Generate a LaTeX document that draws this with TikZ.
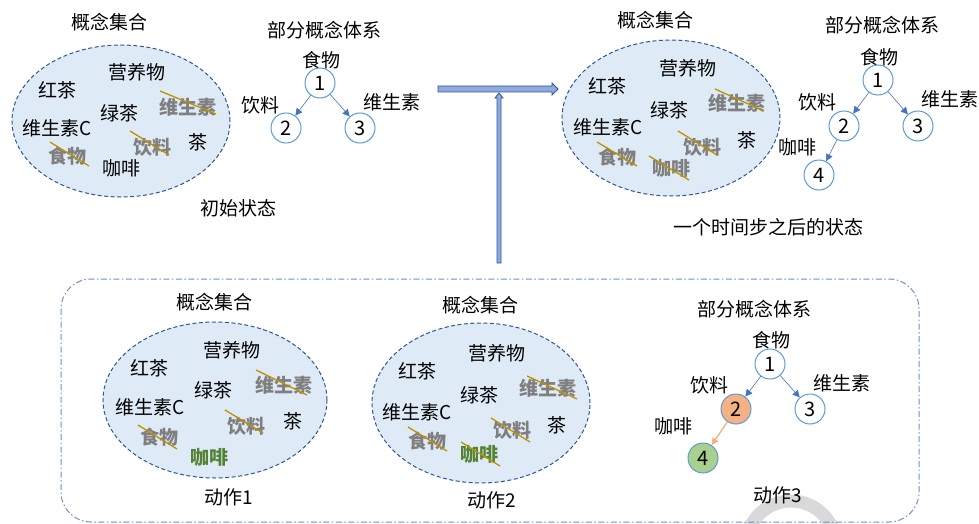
\documentclass[tikz,border=0pt]{standalone}
\usepackage{fontspec}
\setmainfont{Noto Sans CJK SC}
\usetikzlibrary{shapes.geometric,arrows.meta}
\definecolor{setfill}{HTML}{DEEBF7}
\definecolor{setdraw}{HTML}{2F5597}
\definecolor{gonetext}{HTML}{7F7F7F}
\definecolor{strikec}{HTML}{BF9000}
\definecolor{greentext}{HTML}{548235}
\definecolor{nodedraw}{HTML}{5B9BD5}
\definecolor{arrowc}{HTML}{4472C4}
\definecolor{orangefill}{HTML}{F4B183}
\definecolor{greenfill}{HTML}{A9D18E}
\definecolor{blockfill}{HTML}{8FAADC}
\definecolor{boxdraw}{HTML}{6F8FCB}
\definecolor{wmark}{HTML}{D9D9D9}
\tikzset{
  txt/.style={inner sep=0pt, font=\fontsize{19}{21}\selectfont},
  gone/.style={txt, text=gonetext, font=\fontsize{19}{21}\selectfont\bfseries},
  newc/.style={txt, text=greentext, font=\fontsize{19}{21}\selectfont\bfseries},
  strike/.style={draw=strikec, line width=1.3pt},
  cset/.style={ellipse, draw=setdraw, fill=setfill, dashed, dash pattern=on 4pt off 2.5pt, line width=1pt, inner sep=0pt},
  cnode/.style={circle, draw=nodedraw, fill=white, line width=1pt, minimum size=30pt, inner sep=0pt, font=\fontsize{20}{22}\selectfont},
  tarrow/.style={draw=arrowc, line width=0.6pt, -{Triangle[length=7pt,width=7pt]}},
  oarrow/.style={draw=orangefill, line width=1.3pt, -{Triangle[length=7pt,width=7pt]}},
  blockarrow/.style={draw=setdraw, fill=blockfill, line width=0.8pt},
}
\begin{document}
\begin{tikzpicture}[x=1pt,y=-1pt]
\useasboundingbox (0,0) rectangle (979,524);
% watermark arc
\begin{scope}
\clip (0,0) rectangle (979,524);
\draw[wmark, line width=13pt] (791,546) circle (45);
\end{scope}

% ===== top left: initial state =====
\node[txt] (tl-title) at (109,22) {概念集合};
\node[txt] (tl-ttitle) at (324,30) {部分概念体系};
\node[cset, minimum width=218pt, minimum height=152pt] (e1) at (121,121) {};
\node[txt] (e1-a) at (137,72) {营养物};
\node[txt] (e1-b) at (57,90) {红茶};
\node[txt] (e1-c) at (119,113) {绿茶};
\node[gone] (e1-d) at (188,107) {维生素};
\draw[strike] (160,91) -- (216,114);
\node[txt] (e1-e) at (57,128) {维生素C};
\node[gone] (e1-f) at (152,147) {饮料};
\draw[strike] (130,131) -- (169,155);
\node[txt] (e1-g) at (198,142) {茶};
\node[gone] (e1-h) at (67,156) {食物};
\draw[strike] (50,142) -- (89,166);
\node[txt] (e1-i) at (121,168) {咖啡};
\node[txt] (tl-cap) at (238,208) {初始状态};
\node[txt] (t1-l1) at (321,60) {食物};
\node[cnode] (t1-1) at (320,83) {1};
\node[cnode] (t1-2) at (286,128) {2};
\node[cnode] (t1-3) at (360,128) {3};
\node[txt] (t1-l2) at (260,105) {饮料};
\node[txt] (t1-l3) at (392,102) {维生素};
\draw[tarrow] (t1-1) -- (t1-2);
\draw[tarrow] (t1-1) -- (t1-3);

% ===== top right: after one step =====
\node[txt] (tr-title) at (655,20) {概念集合};
\node[txt] (tr-ttitle) at (882,25) {部分概念体系};
\node[cset, minimum width=218pt, minimum height=156pt] (e2) at (671,118) {};
\node[txt] (e2-a) at (688,68) {营养物};
\node[txt] (e2-b) at (607,86) {红茶};
\node[txt] (e2-c) at (669,110) {绿茶};
\node[gone] (e2-d) at (737,103) {维生素};
\draw[strike] (715,89) -- (764,111);
\node[txt] (e2-e) at (608,127) {维生素C};
\node[gone] (e2-f) at (702,147) {饮料};
\draw[strike] (678,131) -- (717,155);
\node[txt] (e2-g) at (747,140) {茶};
\node[gone] (e2-h) at (617,157) {食物};
\draw[strike] (597,142) -- (637,166);
\node[gone] (e2-i) at (671,168) {咖啡};
\draw[strike] (649,156) -- (689,180);
\node[txt] (tr-cap) at (768,227) {一个时间步之后的状态};
\node[txt] (t2-l1) at (879,57) {食物};
\node[cnode] (t2-1) at (878,80) {1};
\node[cnode] (t2-2) at (844,126) {2};
\node[cnode] (t2-3) at (918,126) {3};
\node[cnode] (t2-4) at (819,175) {4};
\node[txt] (t2-l2) at (817,102) {饮料};
\node[txt] (t2-l3) at (950,99) {维生素};
\node[txt] (t2-l4) at (797,147) {咖啡};
\draw[tarrow] (t2-1) -- (t2-2);
\draw[tarrow] (t2-1) -- (t2-3);
\draw[tarrow] (t2-2) -- (t2-4);

% ===== block arrows =====
\draw[blockarrow] (438,86) -- (552,86) -- (552,83) -- (558,89) -- (552,95) -- (552,92) -- (438,92) -- cycle;
\draw[blockarrow] (497,263) -- (497,98) -- (495,98) -- (499,93) -- (503,98) -- (501,98) -- (501,263) -- cycle;

% ===== bottom box =====
\draw[boxdraw, line width=1pt, dash pattern=on 6pt off 2.5pt on 1.5pt off 2.5pt, rounded corners=30pt] (61,279) rectangle (919,522);

% action 1
\node[txt] (b1-title) at (214,302) {概念集合};
\node[cset, minimum width=224pt, minimum height=156pt] (e3) at (215,400) {};
\node[txt] (e3-a) at (232,350) {营养物};
\node[txt] (e3-b) at (149,368) {红茶};
\node[txt] (e3-c) at (213,390) {绿茶};
\node[gone] (e3-d) at (284,385) {维生素};
\draw[strike] (256,370) -- (307,395);
\node[txt] (e3-e) at (150,407) {维生素C};
\node[gone] (e3-f) at (246,426) {饮料};
\draw[strike] (225,410) -- (263,433);
\node[txt] (e3-g) at (293,421) {茶};
\node[gone] (e3-h) at (159,437) {食物};
\draw[strike] (138,425) -- (177,449);
\node[newc] (e3-i) at (209,457) {咖啡};
\node[txt] (b1-cap) at (229,497) {动作1};

% action 2
\node[txt] (b2-title) at (480,305) {概念集合};
\node[cset, minimum width=218pt, minimum height=160pt] (e4) at (481,403) {};
\node[txt] (e4-a) at (497,353) {营养物};
\node[txt] (e4-b) at (417,371) {红茶};
\node[txt] (e4-c) at (479,395) {绿茶};
\node[gone] (e4-d) at (548,388) {维生素};
\draw[strike] (527,376) -- (577,399);
\node[txt] (e4-e) at (417,412) {维生素C};
\node[gone] (e4-f) at (512,430) {饮料};
\draw[strike] (491,418) -- (530,442);
\node[txt] (e4-g) at (557,425) {茶};
\node[gone] (e4-h) at (427,441) {食物};
\draw[strike] (408,427) -- (447,451);
\node[newc] (e4-i) at (479,454) {咖啡};
\draw[strike] (461,442) -- (500,466);
\node[txt] (b2-cap) at (492,500) {动作2};

% action 3
\node[txt] (b3-ttitle) at (754,309) {部分概念体系};
\node[txt] (t3-l1) at (771,340) {食物};
\node[cnode] (t3-1) at (770,364) {1};
\node[cnode, fill=orangefill] (t3-2) at (736,409) {2};
\node[cnode] (t3-3) at (810,409) {3};
\node[cnode, fill=greenfill] (t3-4) at (703,458) {4};
\node[txt] (t3-l2) at (709,385) {饮料};
\node[txt] (t3-l3) at (842,383) {维生素};
\node[txt] (t3-l4) at (673,426) {咖啡};
\draw[tarrow] (t3-1) -- (t3-2);
\draw[tarrow] (t3-1) -- (t3-3);
\draw[oarrow] (t3-2) -- (t3-4);
\node[txt] (b3-cap) at (778,495) {动作3};
\end{tikzpicture}
\end{document}
